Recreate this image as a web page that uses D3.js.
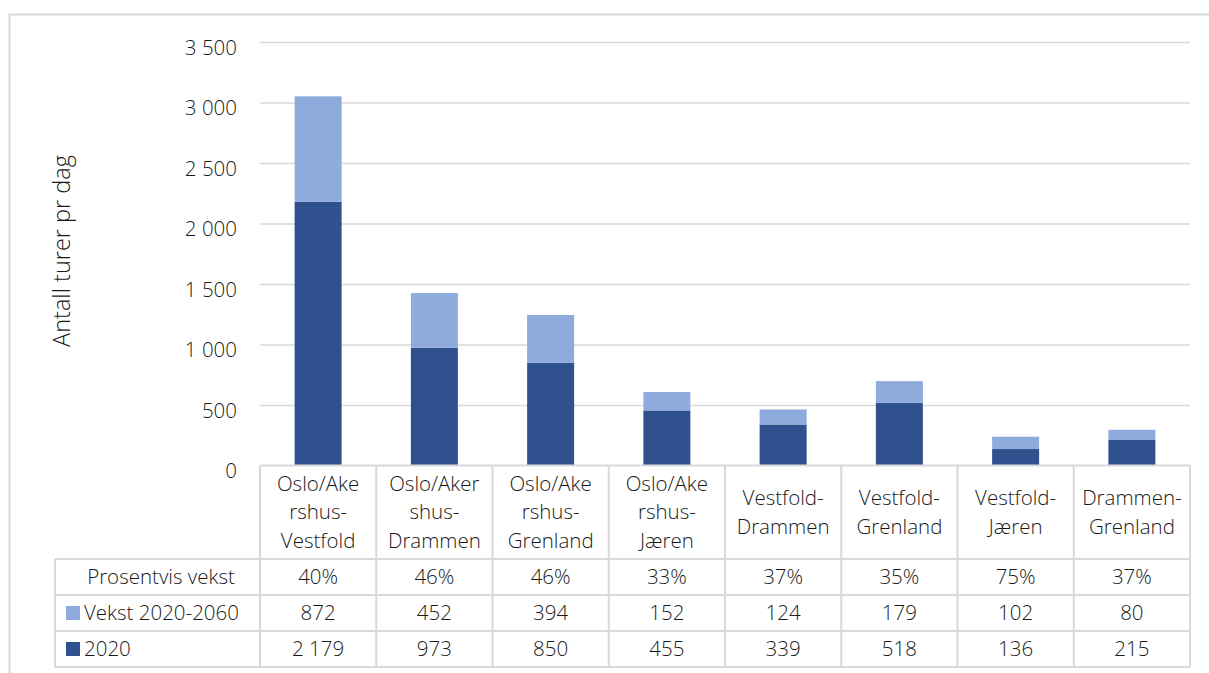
<!DOCTYPE html>
<html>
<head>
<meta charset="utf-8">
<script src="https://cdn.jsdelivr.net/npm/d3@7"></script>
<style>
  html, body { margin: 0; padding: 0; background: #fff; }
  svg { display: block; font-family: "Open Sans", "Noto Sans", sans-serif; font-weight: 300; }
</style>
</head>
<body>
<svg id="chart" width="1209" height="673"></svg>
<script>
// Routes (label lines as wrapped in the table header)
const categoryLines = [
  ["Oslo/Ake", "rshus-", "Vestfold"],
  ["Oslo/Aker", "shus-", "Drammen"],
  ["Oslo/Ake", "rshus-", "Grenland"],
  ["Oslo/Ake", "rshus-", "Jæren"],
  ["Vestfold-", "Drammen"],
  ["Vestfold-", "Grenland"],
  ["Vestfold-", "Jæren"],
  ["Drammen-", "Grenland"]
];
const categories = categoryLines.map(l => l.join(""));
const trips2020 = [2179, 973, 850, 455, 339, 518, 136, 215];
const growth2020to2060 = [872, 452, 394, 152, 124, 179, 102, 80];
const percentGrowth = ["40%", "46%", "46%", "33%", "37%", "35%", "75%", "37%"];
const yTicks = [0, 500, 1000, 1500, 2000, 2500, 3000, 3500];
const seriesNames = ["2020", "Vekst 2020-2060"];
const colors = { "2020": "#2F528F", "Vekst 2020-2060": "#8FAADC" };
const yTitle = "Antall turer pr dag";
const rowLabel = "Prosentvis vekst";

const nb = d3.formatLocale({ decimal: ",", thousands: "\u00a0", grouping: [3], currency: ["", " kr"] });
const fmt = nb.format(",d");

const svg = d3.select("#chart");
const plot = { left: 260, right: 1190, top: 42, bottom: 465.5 };
const table = { left: 55, headerBottom: 559, rowH: 36 };
const textColor = "#1a1a1a";
const lineColor = "#d9d9d9";
const fs = "20.5px";

// outer frame
svg.append("rect").attr("x", 9.5).attr("y", 14.5).attr("width", 1220).attr("height", 680)
  .attr("fill", "none").attr("stroke", lineColor).attr("stroke-width", 2);

const x = d3.scaleBand().domain(categories).range([plot.left, plot.right]).paddingInner(0).paddingOuter(0);
const y = d3.scaleLinear().domain([0, 3500]).range([plot.bottom, plot.top]);

// gridlines and tick labels
const yAxis = d3.axisLeft(y).tickValues(yTicks).tickSize(-(plot.right - plot.left)).tickPadding(23)
  .tickFormat(fmt);
const gy = svg.append("g").attr("transform", `translate(${plot.left},0)`).call(yAxis);
gy.select(".domain").remove();
gy.selectAll(".tick line").attr("stroke", lineColor).attr("stroke-width", 1.5);
gy.selectAll(".tick").filter(d => d === 0).select("line").remove();
gy.selectAll(".tick text").attr("fill", textColor).style("font-size", fs)
  .style("font-family", "'Open Sans', sans-serif").style("font-weight", 300)
  .attr("dy", "0.6em");

// y axis title
svg.append("text").attr("transform", `translate(70,251) rotate(-90)`)
  .attr("text-anchor", "middle").attr("fill", textColor).style("font-size", "23.5px").text(yTitle);

// stacked bars
const rows = categories.map((c, i) => ({ cat: c, "2020": trips2020[i], "Vekst 2020-2060": growth2020to2060[i] }));
const stack = d3.stack().keys(seriesNames)(rows);
const barW = 47;
svg.append("g").selectAll("g").data(stack).join("g").attr("fill", d => colors[d.key])
  .selectAll("rect").data(d => d).join("rect")
  .attr("x", d => x(d.data.cat) + (x.bandwidth() - barW) / 2)
  .attr("width", barW)
  .attr("y", d => y(d[1]))
  .attr("height", d => y(d[0]) - y(d[1]));

// data table
const tg = svg.append("g");
const rowTops = [plot.bottom, table.headerBottom, table.headerBottom + table.rowH, table.headerBottom + 2 * table.rowH, table.headerBottom + 3 * table.rowH];
const hl = (x1, x2, yy) => tg.append("line").attr("x1", x1).attr("x2", x2).attr("y1", yy).attr("y2", yy)
  .attr("stroke", lineColor).attr("stroke-width", 2);
const vl = (xx, y1, y2) => tg.append("line").attr("x1", xx).attr("x2", xx).attr("y1", y1).attr("y2", y2)
  .attr("stroke", lineColor).attr("stroke-width", 2);
hl(plot.left, plot.right, rowTops[0]);
rowTops.slice(1).forEach(t => hl(table.left, plot.right, t));
vl(table.left, rowTops[1], rowTops[4]);
categories.forEach(c => vl(x(c), rowTops[0], rowTops[4]));
vl(plot.right, rowTops[0], rowTops[4]);

// header labels
const lineH = 28.7;
categories.forEach((c, i) => {
  const lines = categoryLines[i];
  const cy = (rowTops[0] + rowTops[1]) / 2;
  const t = tg.append("text").attr("text-anchor", "middle").attr("fill", textColor).style("font-size", fs);
  lines.forEach((ln, k) => {
    t.append("tspan").attr("x", x(c) + x.bandwidth() / 2)
      .attr("y", cy + (k - (lines.length - 1) / 2) * lineH).attr("dy", "0.35em").text(ln);
  });
});

// body rows
const bodyRows = [
  { label: rowLabel, swatch: null, values: percentGrowth },
  { label: "Vekst 2020-2060", swatch: colors["Vekst 2020-2060"], values: growth2020to2060.map(fmt) },
  { label: "2020", swatch: colors["2020"], values: trips2020.map(fmt) }
];
bodyRows.forEach((r, k) => {
  const cy = rowTops[k + 1] + table.rowH / 2;
  if (r.swatch) {
    tg.append("rect").attr("x", 66).attr("y", cy - 7).attr("width", 14).attr("height", 14).attr("fill", r.swatch);
    tg.append("text").attr("x", 84).attr("y", cy).attr("dy", "0.35em").attr("fill", textColor)
      .style("font-size", fs).text(r.label);
  } else {
    tg.append("text").attr("x", 161).attr("y", cy).attr("dy", "0.35em").attr("text-anchor", "middle")
      .attr("fill", textColor).style("font-size", fs).text(r.label);
  }
  r.values.forEach((v, i) => {
    tg.append("text").attr("x", x(categories[i]) + x.bandwidth() / 2).attr("y", cy).attr("dy", "0.35em")
      .attr("text-anchor", "middle").attr("fill", textColor).style("font-size", fs).text(v);
  });
});
</script>
</body>
</html>
